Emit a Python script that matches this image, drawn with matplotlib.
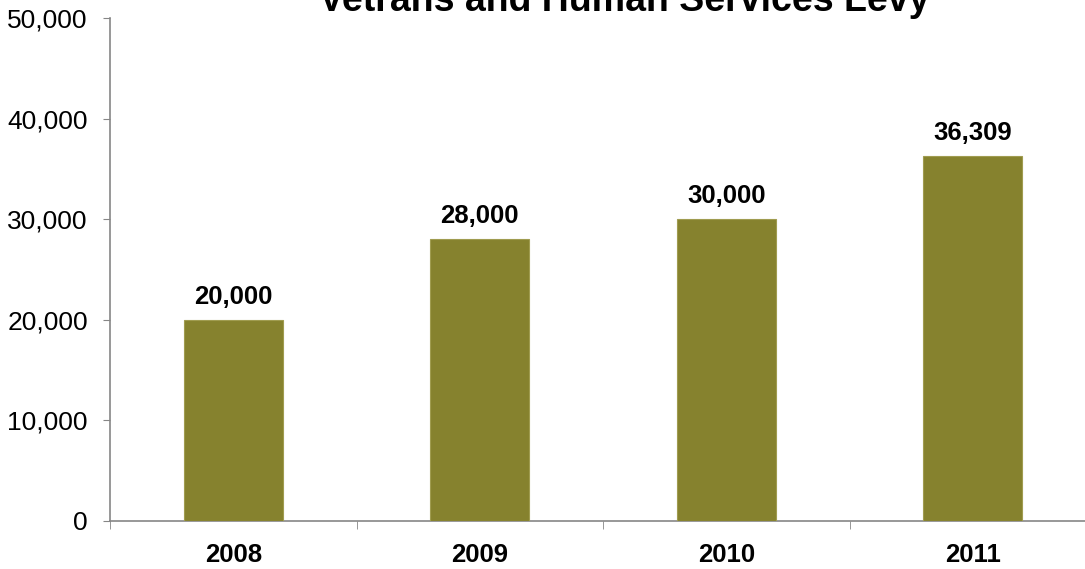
import matplotlib
matplotlib.use("Agg")
import matplotlib.pyplot as plt
from matplotlib.ticker import FuncFormatter, FixedLocator

categories = ["2008", "2009", "2010", "2011"]
values = [20000, 28000, 30000, 36309]
title = "Vetrans and Human Services Levy"

plt.rcParams['font.family'] = ['Liberation Sans', 'DejaVu Sans']

W, H = 1085, 569
fig = plt.figure(figsize=(W / 100, H / 100), dpi=100)
left, right = 110 / W, 1096 / W
bottom, top = 1 - 521 / H, 1 - 18 / H
ax = fig.add_axes([left, bottom, right - left, top - bottom])

x = list(range(len(categories)))
bars = ax.bar(x, values, width=0.4, color="#86822E", edgecolor="#A09C50", linewidth=0.8, zorder=3)
ax.set_xlim(-0.5, len(categories) - 0.5)
ax.set_ylim(0, 50000)
ax.set_yticks(range(0, 50001, 10000))
ax.yaxis.set_major_formatter(FuncFormatter(lambda v, p: f"{int(v):,}"))
ax.set_xticks(x)
ax.set_xticklabels(categories, fontsize=18.5, fontweight="bold")
ax.xaxis.set_minor_locator(FixedLocator([i - 0.5 for i in range(len(categories) + 1)]))
ax.tick_params(axis="x", which="major", length=0, pad=15.5)
ax.tick_params(axis="x", which="minor", length=6, color="#868686", direction="out")
ax.tick_params(axis="y", labelsize=19, length=5, color="#868686", pad=11)

for s in ["top", "right"]:
    ax.spines[s].set_visible(False)
for s in ["left", "bottom"]:
    ax.spines[s].set_color("#868686")
    ax.spines[s].set_linewidth(1.2)

for xi, v in zip(x, values):
    ax.annotate(f"{v:,}", (xi, v), xytext=(0, 8), textcoords="offset points",
                ha="center", va="bottom", fontsize=18.5, fontweight="bold")

fig.text(624 / W, 1 - 10.7 / H, title, ha="center", va="baseline", fontsize=27, fontweight="bold")

fig.savefig("out.png", dpi=100)
